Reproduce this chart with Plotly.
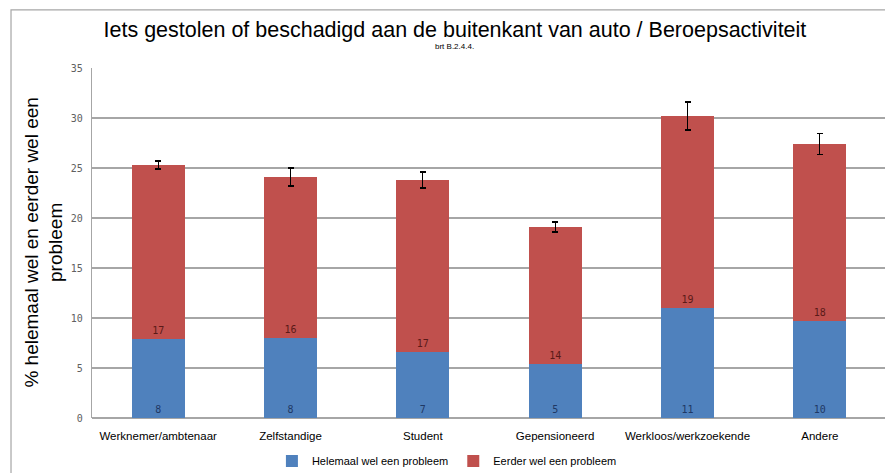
import plotly.graph_objects as go

categories = ["Werknemer/ambtenaar", "Zelfstandige", "Student", "Gepensioneerd",
              "Werkloos/werkzoekende", "Andere"]
helemaal = [7.9, 8.0, 6.6, 5.4, 11.0, 9.7]
eerder = [17.4, 16.1, 17.2, 13.7, 19.2, 17.7]
err = [0.4, 0.9, 0.8, 0.5, 1.4, 1.05]

blue = "#4f81bd"
red = "#c0504d"

fig = go.Figure()
fig.add_trace(go.Bar(
    x=categories, y=helemaal, name="Helemaal wel een probleem",
    marker=dict(color=blue, line=dict(width=0)),
    text=[f"{v:.0f}" for v in helemaal], textposition="inside",
    insidetextanchor="start", textangle=0,
    textfont=dict(family="DejaVu Sans Mono", size=10, color="#1f3864"),
))
fig.add_trace(go.Bar(
    x=categories, y=eerder, name="Eerder wel een probleem",
    marker=dict(color=red, line=dict(width=0)),
    text=[f"{v:.0f}" for v in eerder], textposition="inside",
    insidetextanchor="start", textangle=0,
    textfont=dict(family="DejaVu Sans Mono", size=10, color="#5a1a18"),
    error_y=dict(type="data", array=err, visible=True, color="#000000",
                 thickness=1.3, width=3),
))

# the page adds an 8px body margin, so the figure is made 8px smaller
fig.update_layout(
    width=885, height=465,
    barmode="stack", bargap=0.6,
    paper_bgcolor="white", plot_bgcolor="white",
    margin=dict(l=84, r=7, t=60, b=55, autoexpand=False),
    font=dict(family="Liberation Sans, Arial", color="#000000"),
    title=dict(
        text="Iets gestolen of beschadigd aan de buitenkant van auto / Beroepsactiviteit",
        x=0.505, xanchor="center", y=0.953, yanchor="middle",
        font=dict(size=21.5, color="#000000"),
    ),
    xaxis=dict(
        tickfont=dict(family="Liberation Sans, Arial", size=11.5, color="#000000"),
        showline=False, ticks="", showgrid=False, ticklabelstandoff=9,
    ),
    yaxis=dict(
        range=[0, 35], dtick=5, showgrid=True, gridcolor="#a6a6a6", gridwidth=1.5,
        showline=True, linecolor="#a6a6a6", linewidth=1.2,
        zeroline=True, zerolinecolor="#a6a6a6", zerolinewidth=1.5,
        tickfont=dict(family="DejaVu Sans Mono", size=10, color="#606060"),
        ticks="", ticklabelstandoff=6,
    ),
    legend=dict(
        orientation="h", x=0.447, xanchor="center",
        yref="container", y=0.026, yanchor="middle",
        font=dict(family="Liberation Sans, Arial", size=11),
        itemwidth=30, traceorder="normal",
    ),
    annotations=[
        dict(text="brt B.2.4.4.", xref="paper", yref="paper", x=0.457, y=1.062,
             xanchor="center", yanchor="middle", showarrow=False,
             font=dict(size=8, color="#000000")),
        dict(text="% helemaal wel en eerder wel een<br>probleem",
             xref="paper", yref="paper", x=-0.061, y=0.5, textangle=-90,
             xanchor="center", yanchor="middle", showarrow=False,
             font=dict(size=19, color="#000000")),
    ],
    shapes=[dict(
        type="rect", xref="paper", yref="paper",
        x0=-0.102, x1=1.03, y0=-0.2, y1=1.166,
        line=dict(color="#a6a6a6", width=1.2), fillcolor="rgba(0,0,0,0)", layer="below",
    )],
)

fig.write_html("out.html")
